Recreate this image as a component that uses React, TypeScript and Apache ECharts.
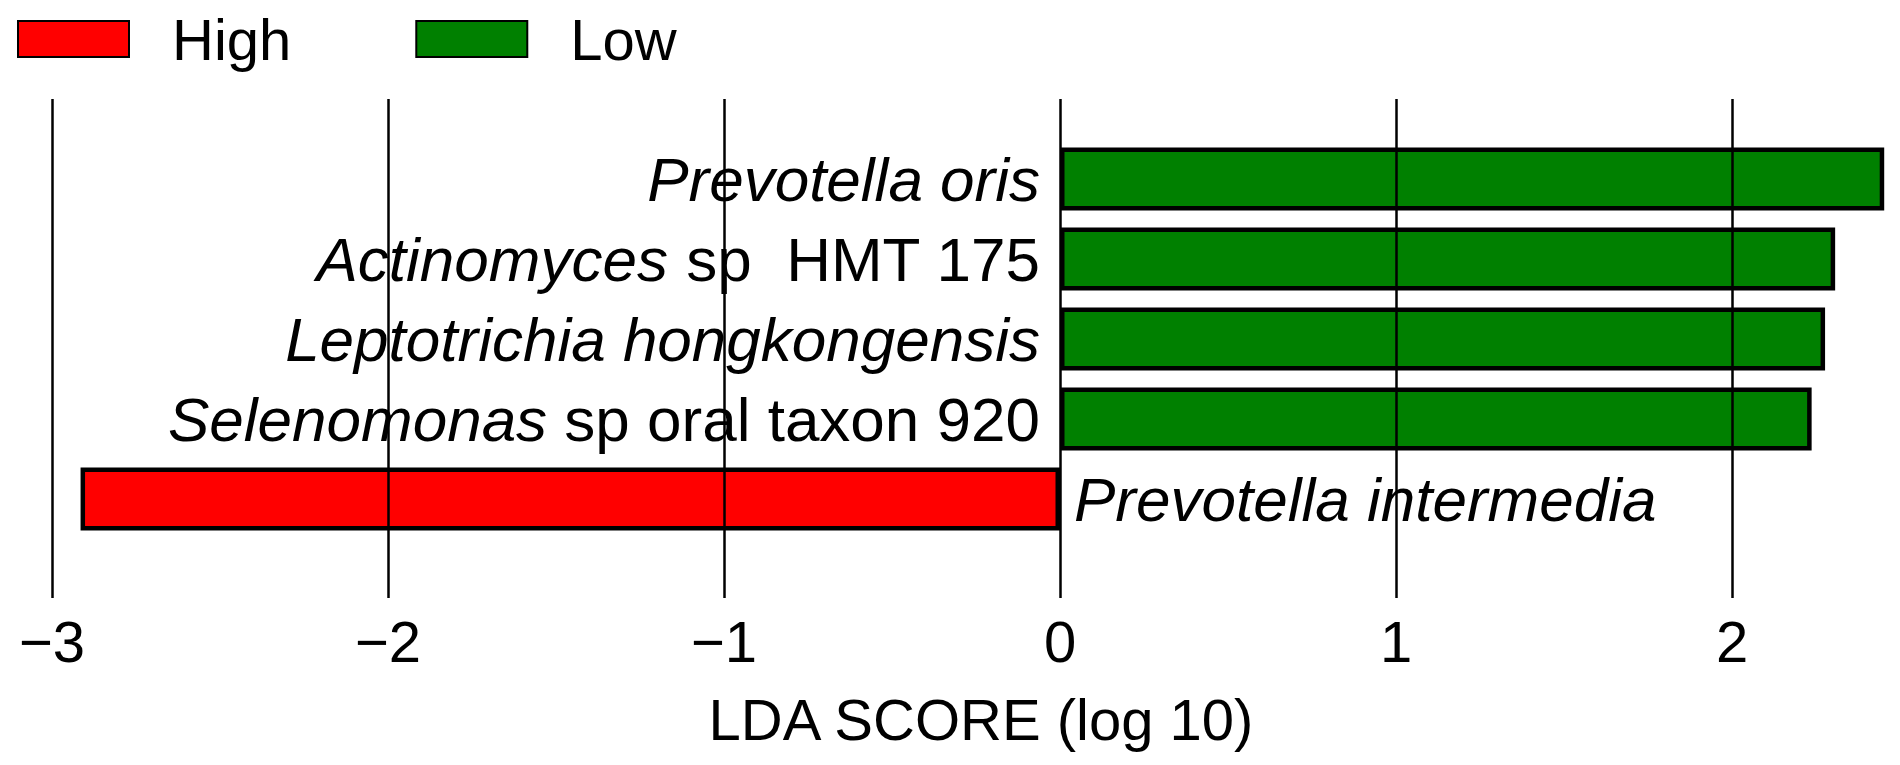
import React, { useEffect, useRef } from "react";
import * as echarts from "echarts";

const italicParts = [
  "Prevotella oris",
  "Actinomyces",
  "Leptotrichia hongkongensis",
  "Selenomonas",
  "Prevotella intermedia",
];
const plainParts = ["", " sp  HMT 175", "", " sp oral taxon 920", ""];
const categories = italicParts.map((p, i) => p + plainParts[i]);
const highValues = [null, null, null, null, -2.915];
const lowValues = [2.453, 2.307, 2.277, 2.237, null];
const seriesNames = ["High", "Low"];
const xTicksMin = -3;
const xTicksMax = 2;
const xBarsMax = 2.5;
const axisTitle = "LDA SCORE (log 10)";

const FONT = "'Liberation Sans', Arial, sans-serif";

function labelFormatter(p: any) {
  const i = p.dataIndex;
  const it = italicParts[i];
  const pl = plainParts[i];
  return "{i|" + it + "}" + (pl ? "{n|" + pl + "}" : "");
}

const rich = {
  i: { fontStyle: "italic", fontSize: 62, fontFamily: FONT, color: "#000" },
  n: { fontStyle: "normal", fontSize: 62, fontFamily: FONT, color: "#000" },
};

export default function App() {
  const ref = useRef<HTMLDivElement>(null);
  useEffect(() => {
    if (!ref.current) return;
    const chart = echarts.init(ref.current, null, { renderer: "svg" });
    chart.setOption({
      animation: false,
      backgroundColor: "#fff",
      textStyle: { fontFamily: FONT },
      legend: {
        left: 17,
        top: 10,
        padding: 0,
        itemWidth: 111,
        itemHeight: 36,
        itemGap: 124,
        textStyle: { fontSize: 58, color: "#000", fontFamily: FONT, padding: [0, 0, 0, 38] },
        data: seriesNames.map((n) => ({ name: n, icon: "rect" })),
      },
      grid: [
        { left: 52, right: 168, top: 99, bottom: 765 - 598, outerBoundsMode: "none", containLabel: false },
        { left: 52, right: 0, top: 139, bottom: 765 - 539, outerBoundsMode: "none", containLabel: false },
      ],
      xAxis: [
        {
          gridIndex: 0,
          type: "value",
          min: xTicksMin,
          max: xTicksMax,
          interval: 1,
          z: 10,
          axisLine: { show: false },
          axisTick: { show: false },
          splitLine: { show: true, lineStyle: { color: "#000", width: 2.5 } },
          axisLabel: {
            margin: 14,
            fontSize: 58,
            color: "#000",
            fontFamily: FONT,
            formatter: (v: number) => (v < 0 ? "\u2212" + Math.abs(v) : String(v)),
          },
        },
        {
          gridIndex: 1,
          type: "value",
          min: xTicksMin,
          max: xBarsMax,
          show: false,
          splitLine: { show: false },
        },
      ],
      yAxis: [
        { gridIndex: 0, type: "value", show: false, splitLine: { show: false } },
        {
          gridIndex: 1,
          type: "category",
          inverse: true,
          data: categories,
          show: false,
        },
      ],
      graphic: [
        {
          type: "text",
          x: 981,
          y: 719,
          style: {
            text: axisTitle,
            fontSize: 58,
            fontFamily: FONT,
            fill: "#000",
            align: "center",
            verticalAlign: "middle",
            textAlign: "center",
            textVerticalAlign: "middle",
          },
        },
      ],
      series: [
        {
          name: seriesNames[0],
          type: "bar",
          xAxisIndex: 1,
          yAxisIndex: 1,
          data: highValues,
          barWidth: "79%",
          barGap: "-100%",
          itemStyle: { color: "#ff0000", borderColor: "#000", borderWidth: 4.5 },
          label: {
            show: true,
            position: "right",
            distance: 14,
            formatter: labelFormatter,
            rich,
          },
        },
        {
          name: seriesNames[1],
          type: "bar",
          xAxisIndex: 1,
          yAxisIndex: 1,
          data: lowValues,
          barWidth: "79%",
          barGap: "-100%",
          itemStyle: { color: "#008000", borderColor: "#000", borderWidth: 4.5 },
          label: {
            show: true,
            position: "left",
            distance: 20,
            formatter: labelFormatter,
            rich,
          },
        },
      ],
    });
    return () => chart.dispose();
  }, []);
  return (
    <div
      ref={ref}
      style={{ position: "absolute", left: 0, top: 0, width: 1900, height: 765 }}
    />
  );
}
